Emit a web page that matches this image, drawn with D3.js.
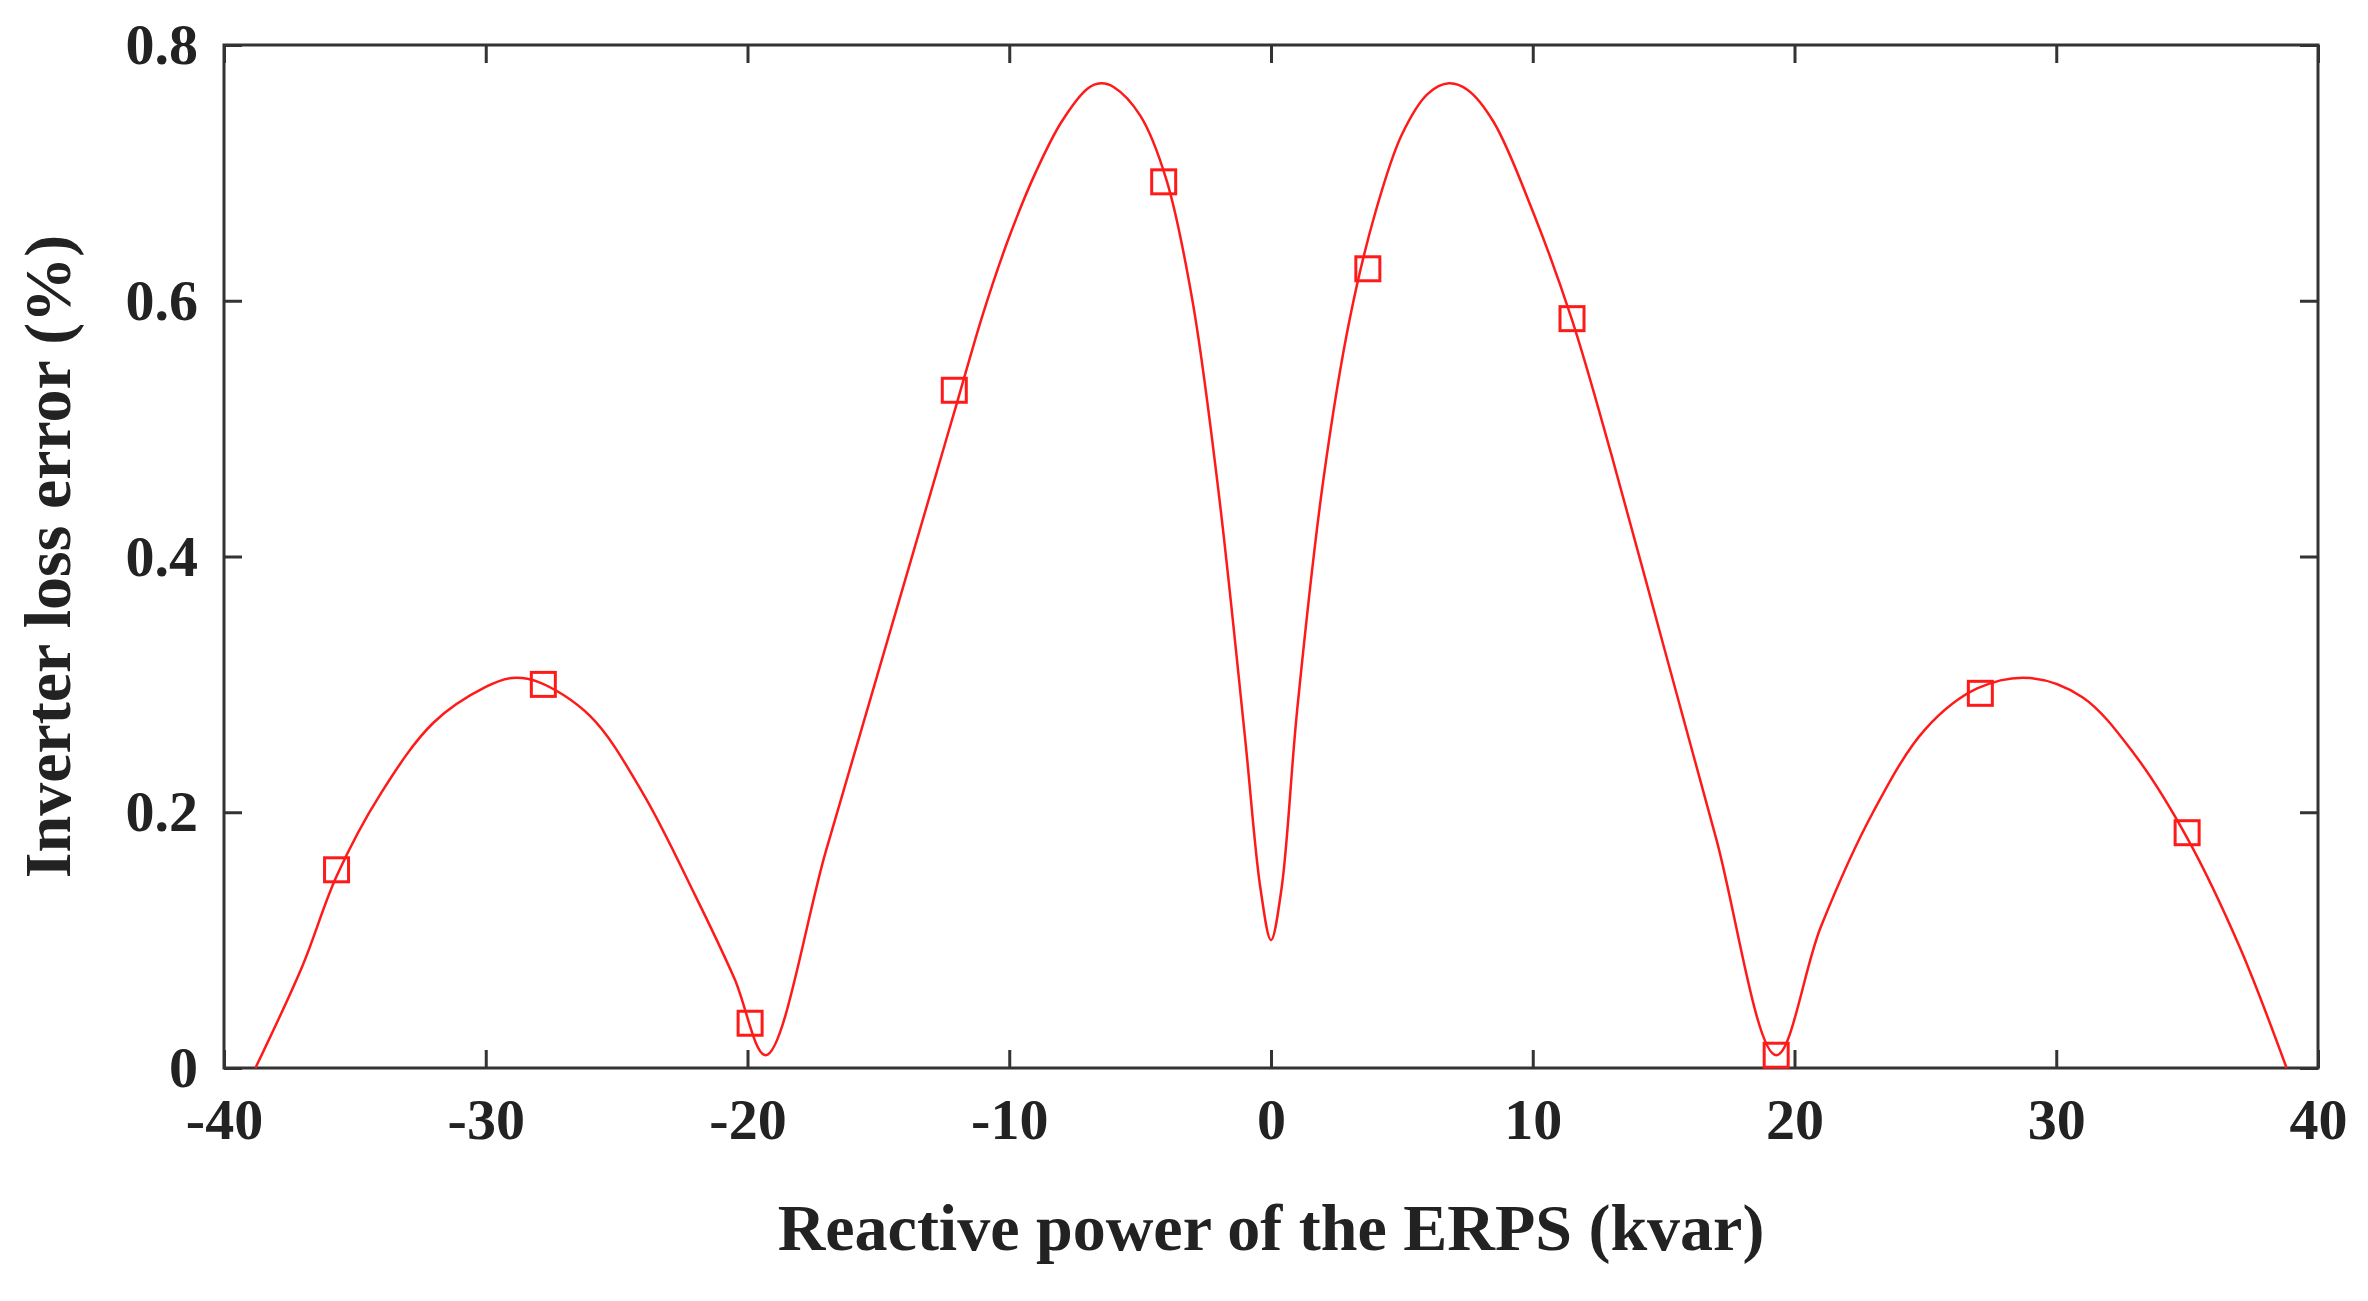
<!DOCTYPE html><html><head><meta charset="utf-8"><script src="https://cdn.jsdelivr.net/npm/d3@7"></script>
<style>body{margin:0;background:#fff}</style></head><body><svg id="c" width="2368" height="1301"></svg><script>
const curveX=[-38.8,-37,-35.7,-34,-32,-30,-29,-28,-26,-24,-22,-20.5,-19.3,-17,-15,-13,-12,-11,-10,-9,-8,-7,-6.5,-6,-5,-4,-3,-2,-1,-0.4,0,0.4,1,2,3,4,5,6,6.8,7.5,8.5,10,11.5,13,15,17,19.3,21,23,25,27,29,31,33,35,37,38.8];
const curveY=[0,0.08,0.15,0.215,0.27,0.298,0.305,0.302,0.275,0.215,0.135,0.07,0.01,0.17,0.31,0.45,0.52,0.59,0.65,0.70,0.74,0.766,0.77,0.767,0.745,0.695,0.60,0.45,0.26,0.14,0.1,0.14,0.28,0.46,0.585,0.67,0.73,0.762,0.77,0.765,0.74,0.67,0.585,0.48,0.33,0.18,0.01,0.11,0.2,0.265,0.297,0.305,0.29,0.245,0.18,0.095,0];
const markX=[-35.7,-27.8,-19.9,-12.1,-4.1,3.7,11.5,19.3,27.1,35];
const markY=[0.155,0.30,0.035,0.53,0.693,0.625,0.586,0.01,0.293,0.184];
const xTicks=[-40,-30,-20,-10,0,10,20,30,40];
const yTicks=[0,0.2,0.4,0.6,0.8];
const svg=d3.select("#c");
const L=224,R=2318,T=45,B=1068;
const x=d3.scaleLinear().domain([-40,40]).range([L,R]);
const y=d3.scaleLinear().domain([0,0.8]).range([B,T]);
const font="'Liberation Serif', serif";
const col="#333";
svg.append("g").attr("transform",`translate(0,${B})`).call(d3.axisBottom(x).tickValues(xTicks).tickSizeInner(-18).tickSizeOuter(0).tickPadding(30).tickFormat(d=>d))
 .call(g=>{g.select(".domain").remove();g.selectAll("line").attr("stroke",col).attr("stroke-width",3);g.selectAll("text").attr("font-family",font).attr("font-weight","bold").attr("font-size",58).attr("fill","#222")});
svg.append("g").attr("transform",`translate(0,${T})`).call(d3.axisTop(x).tickValues(xTicks).tickSizeInner(-18).tickSizeOuter(0).tickFormat(""))
 .call(g=>{g.select(".domain").remove();g.selectAll("line").attr("stroke",col).attr("stroke-width",3)});
svg.append("g").attr("transform",`translate(${L},0)`).call(d3.axisLeft(y).tickValues(yTicks).tickSizeInner(-18).tickSizeOuter(0).tickPadding(26).tickFormat(d=>d===0?"0":d3.format(".1f")(d)))
 .call(g=>{g.select(".domain").remove();g.selectAll("line").attr("stroke",col).attr("stroke-width",3);g.selectAll("text").attr("font-family",font).attr("font-weight","bold").attr("font-size",58).attr("fill","#222")});
svg.append("g").attr("transform",`translate(${R},0)`).call(d3.axisRight(y).tickValues(yTicks).tickSizeInner(-18).tickSizeOuter(0).tickFormat(""))
 .call(g=>{g.select(".domain").remove();g.selectAll("line").attr("stroke",col).attr("stroke-width",3)});
svg.append("rect").attr("x",L).attr("y",T).attr("width",R-L).attr("height",B-T).attr("fill","none").attr("stroke",col).attr("stroke-width",3);
const pts=curveX.map((v,i)=>[v,curveY[i]]);
svg.append("path").datum(pts).attr("d",d3.line().x(d=>x(d[0])).y(d=>y(d[1])).curve(d3.curveCatmullRom.alpha(0.5))).attr("fill","none").attr("stroke","#ff1a1a").attr("stroke-width",2.5);
svg.selectAll("rect.m").data(markX).enter().append("rect").attr("class","m")
 .attr("x",(d)=>x(d)-12).attr("y",(d,i)=>y(markY[i])-12).attr("width",24).attr("height",24).attr("fill","none").attr("stroke","#ff1a1a").attr("stroke-width",3);
svg.append("text").attr("x",(L+R)/2).attr("y",1250).attr("text-anchor","middle").attr("font-family",font).attr("font-weight","bold").attr("font-size",66).attr("fill","#222").text("Reactive power of the ERPS (kvar)");
svg.append("text").attr("transform",`translate(70,${(T+B)/2}) rotate(-90)`).attr("text-anchor","middle").attr("font-family",font).attr("font-weight","bold").attr("font-size",66).attr("fill","#222").text("Inverter loss error (%)");
</script></body></html>
